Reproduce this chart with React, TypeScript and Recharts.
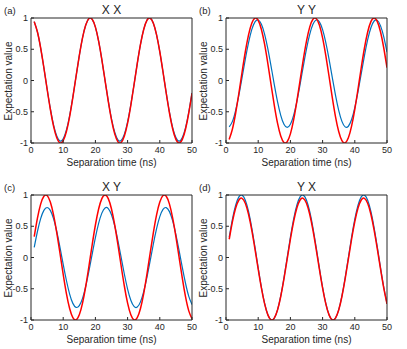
import { LineChart, Line, XAxis, YAxis } from "recharts";

// separation time (ns)
const time = [
  1, 2, 3, 4, 5, 6, 7, 8, 9, 10, 11, 12, 13, 14, 15, 16, 17, 18, 19, 20, 21, 22, 23, 24, 25,
  26, 27, 28, 29, 30, 31, 32, 33, 34, 35, 36, 37, 38, 39, 40, 41, 42, 43, 44, 45, 46, 47, 48,
  49, 50,
];

const xTicks = [0, 10, 20, 30, 40, 50];
const yTicks = [-1, -0.5, 0, 0.5, 1];

// (a) X X
const xxBlue = [
  0.942, 0.776, 0.52, 0.204, -0.132, -0.446, -0.709, -0.889, -0.968, -0.934, -0.792, -0.56,
  -0.262, 0.068, 0.398, 0.683, 0.888, 0.991, 0.979, 0.854, 0.631, 0.335, 0.0, -0.325, -0.612,
  -0.828, -0.95, -0.961, -0.861, -0.663, -0.386, -0.066, 0.27, 0.577, 0.817, 0.963, 0.998,
  0.917, 0.731, 0.46, 0.136, -0.198, -0.504, -0.753, -0.914, -0.97, -0.914, -0.753, -0.504,
  -0.198,
];
const xxRed = [
  0.942, 0.776, 0.52, 0.204, -0.136, -0.46, -0.731, -0.917, -0.998, -0.963, -0.817, -0.577,
  -0.27, 0.068, 0.398, 0.683, 0.888, 0.991, 0.979, 0.854, 0.631, 0.335, 0.0, -0.335, -0.631,
  -0.854, -0.979, -0.991, -0.888, -0.683, -0.398, -0.068, 0.27, 0.577, 0.817, 0.963, 0.998,
  0.917, 0.731, 0.46, 0.136, -0.204, -0.52, -0.776, -0.942, -1.0, -0.942, -0.776, -0.52,
  -0.204,
];

// (b) Y Y
const yyBlue = [
  -0.742, -0.654, -0.477, -0.233, 0.051, 0.342, 0.606, 0.813, 0.938, 0.968, 0.899, 0.738,
  0.506, 0.227, -0.065, -0.337, -0.557, -0.7, -0.75, -0.7, -0.557, -0.337, -0.065, 0.227,
  0.506, 0.738, 0.899, 0.968, 0.938, 0.813, 0.606, 0.342, 0.051, -0.233, -0.477, -0.654,
  -0.742, -0.732, -0.625, -0.433, -0.178, 0.11, 0.398, 0.653, 0.845, 0.952, 0.962, 0.874,
  0.697, 0.453,
];
const yyRed = [
  -0.942, -0.776, -0.52, -0.204, 0.136, 0.46, 0.731, 0.917, 0.998, 0.963, 0.817, 0.577, 0.27,
  -0.068, -0.398, -0.683, -0.888, -0.991, -0.979, -0.854, -0.631, -0.335, 0.0, 0.335, 0.631,
  0.854, 0.979, 0.991, 0.888, 0.683, 0.398, 0.068, -0.27, -0.577, -0.817, -0.963, -0.998,
  -0.917, -0.731, -0.46, -0.136, 0.204, 0.52, 0.776, 0.942, 1.0, 0.942, 0.776, 0.52, 0.204,
];

// (c) X Y
const xyBlue = [
  0.163, 0.416, 0.621, 0.754, 0.8, 0.754, 0.621, 0.416, 0.163, -0.109, -0.368, -0.585, -0.734,
  -0.798, -0.77, -0.654, -0.461, -0.216, 0.055, 0.319, 0.546, 0.71, 0.793, 0.783, 0.684, 0.505,
  0.268, 0.0, -0.268, -0.505, -0.684, -0.783, -0.793, -0.71, -0.546, -0.319, -0.055, 0.216,
  0.461, 0.654, 0.77, 0.798, 0.734, 0.585, 0.368, 0.109, -0.163, -0.416, -0.621, -0.754,
];
const xyRed = [
  0.335, 0.631, 0.854, 0.979, 0.991, 0.888, 0.683, 0.398, 0.068, -0.27, -0.577, -0.817, -0.963,
  -0.998, -0.917, -0.731, -0.46, -0.136, 0.204, 0.52, 0.776, 0.942, 1.0, 0.942, 0.776, 0.52,
  0.204, -0.136, -0.46, -0.731, -0.917, -0.998, -0.963, -0.817, -0.577, -0.27, 0.068, 0.398,
  0.683, 0.888, 0.991, 0.979, 0.854, 0.631, 0.335, 0.0, -0.335, -0.631, -0.854, -0.979,
];

// (d) Y X
const yxBlue = [
  0.325, 0.614, 0.837, 0.969, 0.997, 0.916, 0.736, 0.476, 0.165, -0.165, -0.476, -0.736,
  -0.916, -0.997, -0.969, -0.837, -0.614, -0.325, 0.0, 0.325, 0.614, 0.837, 0.969, 0.997,
  0.916, 0.736, 0.476, 0.165, -0.165, -0.476, -0.736, -0.916, -0.997, -0.969, -0.837, -0.614,
  -0.325, 0.0, 0.325, 0.614, 0.837, 0.969, 0.997, 0.916, 0.736, 0.476, 0.165, -0.165, -0.476,
  -0.736,
];
const yxRed = [
  0.292, 0.574, 0.791, 0.92, 0.947, 0.868, 0.692, 0.439, 0.135, -0.185, -0.489, -0.742, -0.918,
  -0.997, -0.97, -0.841, -0.624, -0.342, -0.025, 0.292, 0.574, 0.791, 0.92, 0.947, 0.868,
  0.692, 0.439, 0.135, -0.185, -0.489, -0.742, -0.918, -0.997, -0.97, -0.841, -0.624, -0.342,
  -0.025, 0.292, 0.574, 0.791, 0.92, 0.947, 0.868, 0.692, 0.439, 0.135, -0.185, -0.489,
  -0.742,
];

const AXIS = "#262626";
const BLUE = "#0072BD";
const RED = "#FF0000";
const FONT = "'Liberation Sans', Arial, sans-serif";

const BOX_W = 161;
const BOX_H = 125;

const textBase: React.CSSProperties = {
  position: "absolute",
  fontFamily: FONT,
  color: AXIS,
  lineHeight: 1,
  whiteSpace: "nowrap",
};

interface PanelProps {
  left: number;
  top: number;
  title: string;
  tag: string;
  blue: number[];
  red: number[];
}

function Panel({ left, top, title, tag, blue, red }: PanelProps) {
  const data = time.map((t, i) => ({ t, blue: blue[i], red: red[i] }));
  const cx = left + BOX_W / 2;

  return (
    <>
      <div style={{ position: "absolute", left: left - 31, top: top - 5 }}>
        <LineChart
          width={31 + BOX_W + 6}
          height={5 + BOX_H + 20}
          data={data}
          margin={{ top: 4, right: 5, bottom: 0, left: 0 }}
        >
          <XAxis
            dataKey="t"
            type="number"
            domain={[0, 50]}
            ticks={xTicks}
            allowDataOverflow
            height={20}
            stroke={AXIS}
            tickSize={-3}
            tickMargin={7}
            tick={{ fill: AXIS, fontSize: 9, fontFamily: FONT }}
          />
          <XAxis
            xAxisId="top"
            orientation="top"
            dataKey="t"
            type="number"
            domain={[0, 50]}
            ticks={xTicks}
            allowDataOverflow
            height={1}
            stroke={AXIS}
            tickSize={-3}
            tick={false}
          />
          <YAxis
            type="number"
            domain={[-1, 1]}
            ticks={yTicks}
            allowDataOverflow
            width={31}
            stroke={AXIS}
            tickSize={-3}
            tickMargin={6}
            tick={{ fill: AXIS, fontSize: 9, fontFamily: FONT }}
          />
          <YAxis
            yAxisId="right"
            orientation="right"
            type="number"
            domain={[-1, 1]}
            ticks={yTicks}
            allowDataOverflow
            width={1}
            stroke={AXIS}
            tickSize={-3}
            tick={false}
          />
          <Line
            type="natural"
            dataKey="blue"
            stroke={BLUE}
            strokeWidth={1.2}
            dot={false}
            isAnimationActive={false}
          />
          <Line
            type="natural"
            dataKey="red"
            stroke={RED}
            strokeWidth={1.5}
            dot={false}
            isAnimationActive={false}
          />
        </LineChart>
      </div>
      <div
        style={{
          ...textBase,
          fontSize: 12,
          left: cx,
          top: top - 8,
          transform: "translate(-50%, -50%)",
        }}
      >
        {title}
      </div>
      <div
        style={{
          ...textBase,
          fontSize: 9.5,
          left: left - 27,
          top: top - 7,
          transform: "translate(0, -50%)",
        }}
      >
        {tag}
      </div>
      <div
        style={{
          ...textBase,
          fontSize: 10,
          left: cx,
          top: top + BOX_H + 20,
          transform: "translate(-50%, -50%)",
        }}
      >
        Separation time (ns)
      </div>
      <div
        style={{
          ...textBase,
          fontSize: 10,
          left: left - 22,
          top: top + BOX_H / 2,
          transform: "translate(-50%, -50%) rotate(-90deg)",
        }}
      >
        Expectation value
      </div>
    </>
  );
}

export default function App() {
  return (
    <div
      style={{
        position: "absolute",
        left: 0,
        top: 0,
        width: 407,
        height: 349,
        background: "#fff",
        overflow: "hidden",
      }}
    >
      <Panel left={31} top={18} title="X X" tag="(a)" blue={xxBlue} red={xxRed} />
      <Panel left={226} top={18} title="Y Y" tag="(b)" blue={yyBlue} red={yyRed} />
      <Panel left={31} top={195} title="X Y" tag="(c)" blue={xyBlue} red={xyRed} />
      <Panel left={226} top={195} title="Y X" tag="(d)" blue={yxBlue} red={yxRed} />
    </div>
  );
}
